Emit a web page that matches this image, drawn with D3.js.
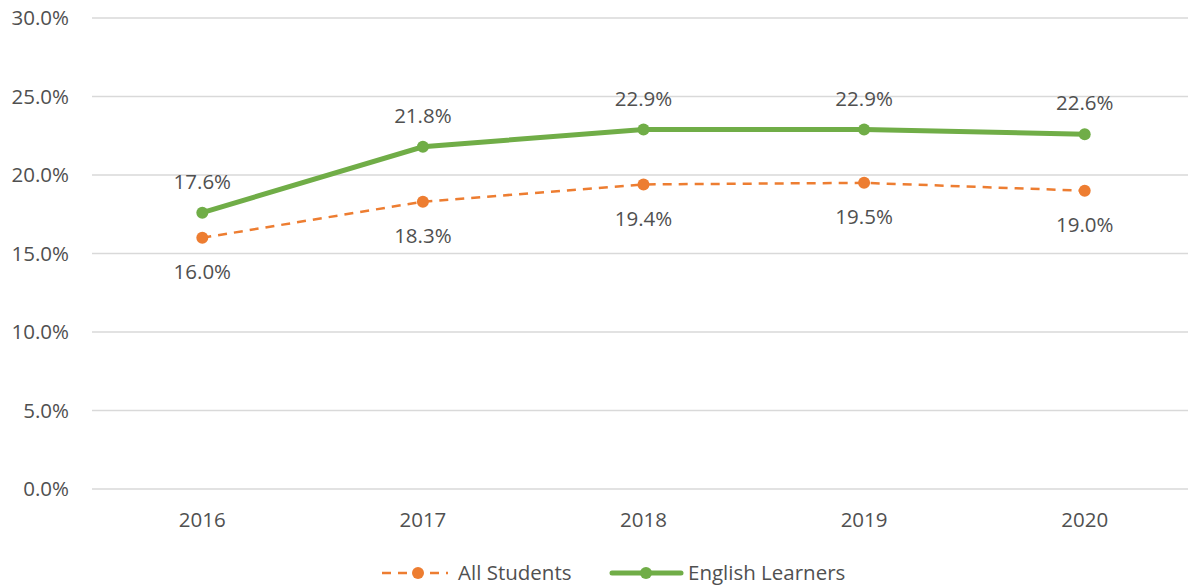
<!DOCTYPE html>
<html><head><meta charset="utf-8">
<script src="https://cdn.jsdelivr.net/npm/d3@7"></script>
<style>body{margin:0;background:#fff}svg{display:block}text{font-family:"Open Sans",sans-serif;fill:#505050}</style>
</head><body><svg id="c" width="1188" height="588"></svg>
<script>
const years = ["2016","2017","2018","2019","2020"];
const allStudents = [16.0, 18.3, 19.4, 19.5, 19.0];
const englishLearners = [17.6, 21.8, 22.9, 22.9, 22.6];
const yTicks = [0,5,10,15,20,25,30];
const seriesNames = ["All Students","English Learners"];

const svg = d3.select("#c");
const x = d3.scaleBand().domain(years).range([92,1195]);
const y = d3.scaleLinear().domain([0,30]).range([489,18]);
const cx = d => x(d) + x.bandwidth()/2;
const fs = 20.5;

svg.append("g").selectAll("line").data(yTicks).join("line")
  .attr("x1",92).attr("x2",1188).attr("y1",d=>y(d)).attr("y2",d=>y(d))
  .attr("stroke","#d9d9d9").attr("stroke-width",1.3);
svg.append("g").selectAll("text").data(yTicks).join("text")
  .attr("x",69).attr("y",d=>y(d)).attr("dy","0.35em").attr("text-anchor","end")
  .attr("font-size",fs).text(d=>d3.format(".1f")(d)+"%");
svg.append("g").selectAll("text").data(years).join("text")
  .attr("x",d=>cx(d)).attr("y",520).attr("dy","0.35em").attr("text-anchor","middle")
  .attr("font-size",fs).text(d=>d);

const line = d3.line().x((d,i)=>cx(years[i])).y(d=>y(d));
const orange="#ED7D31", green="#70AD47";
svg.append("path").datum(allStudents).attr("d",line).attr("fill","none")
  .attr("stroke",orange).attr("stroke-width",2.5).attr("stroke-dasharray","9,7");
svg.append("path").datum(englishLearners).attr("d",line).attr("fill","none")
  .attr("stroke",green).attr("stroke-width",5).attr("stroke-linecap","round");
svg.append("g").selectAll("circle").data(allStudents).join("circle")
  .attr("cx",(d,i)=>cx(years[i])).attr("cy",d=>y(d)).attr("r",6).attr("fill",orange);
svg.append("g").selectAll("circle").data(englishLearners).join("circle")
  .attr("cx",(d,i)=>cx(years[i])).attr("cy",d=>y(d)).attr("r",6).attr("fill",green);
svg.append("g").selectAll("text").data(allStudents).join("text")
  .attr("x",(d,i)=>cx(years[i])).attr("y",d=>y(d)+34).attr("dy","0.35em").attr("text-anchor","middle")
  .attr("font-size",fs).text(d=>d3.format(".1f")(d)+"%");
svg.append("g").selectAll("text").data(englishLearners).join("text")
  .attr("x",(d,i)=>cx(years[i])).attr("y",d=>y(d)-31).attr("dy","0.35em").attr("text-anchor","middle")
  .attr("font-size",fs).text(d=>d3.format(".1f")(d)+"%");

// legend
const lg = svg.append("g");
const ly = 573;
lg.append("line").attr("x1",382).attr("x2",448).attr("y1",ly).attr("y2",ly)
  .attr("stroke",orange).attr("stroke-width",2.5).attr("stroke-dasharray","9,7");
lg.append("circle").attr("cx",418).attr("cy",ly).attr("r",6).attr("fill",orange);
lg.append("text").attr("x",458).attr("y",ly).attr("dy","0.35em").attr("font-size",fs).text(seriesNames[0]);
lg.append("line").attr("x1",612).attr("x2",681).attr("y1",ly).attr("y2",ly)
  .attr("stroke",green).attr("stroke-width",5).attr("stroke-linecap","round");
lg.append("circle").attr("cx",646).attr("cy",ly).attr("r",6).attr("fill",green);
lg.append("text").attr("x",688).attr("y",ly).attr("dy","0.35em").attr("font-size",fs).text(seriesNames[1]);
</script></body></html>
